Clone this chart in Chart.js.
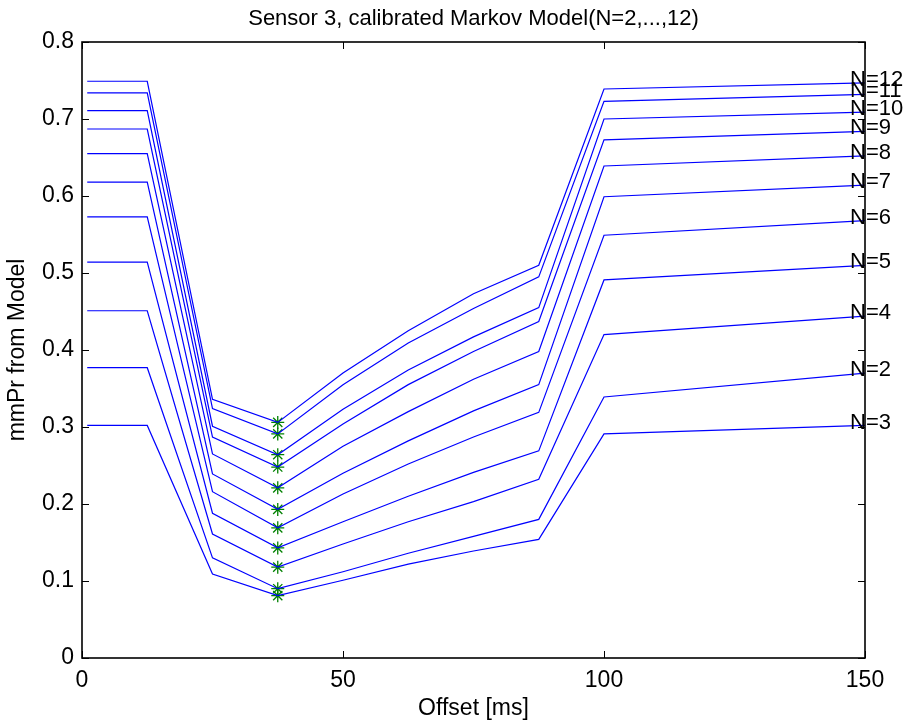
<!DOCTYPE html>
<html>
<head>
<meta charset="utf-8">
<title>Sensor 3, calibrated Markov Model</title>
<script src="https://cdn.jsdelivr.net/npm/chart.js@4.4.0/dist/chart.umd.min.js"></script>
<style>
  html, body { margin: 0; padding: 0; background: #fff; }
  #wrap { width: 909px; height: 725px; }
</style>
</head>
<body>
<div id="wrap"><canvas id="chart"></canvas></div>
<script>
// offsets [ms] where the model was evaluated
const offsets = [1, 12.5, 25, 37.5, 50, 62.5, 75, 87.5, 100, 150];

// mmPr per model order, top curve first
const n12 = [0.749, 0.749, 0.336, 0.306, 0.370, 0.425, 0.473, 0.510, 0.739, 0.747];
const n11 = [0.734, 0.734, 0.324, 0.291, 0.355, 0.409, 0.454, 0.495, 0.723, 0.732];
const n10 = [0.711, 0.711, 0.301, 0.264, 0.323, 0.374, 0.417, 0.455, 0.700, 0.709];
const n9  = [0.687, 0.687, 0.287, 0.248, 0.304, 0.355, 0.398, 0.437, 0.673, 0.684];
const n8  = [0.655, 0.655, 0.265, 0.221, 0.275, 0.320, 0.362, 0.398, 0.639, 0.652];
const n7  = [0.618, 0.618, 0.239, 0.193, 0.240, 0.282, 0.321, 0.355, 0.599, 0.614];
const n6  = [0.573, 0.573, 0.216, 0.169, 0.213, 0.252, 0.287, 0.319, 0.549, 0.568];
const n5  = [0.514, 0.514, 0.188, 0.143, 0.177, 0.210, 0.241, 0.269, 0.491, 0.510];
const n4  = [0.451, 0.451, 0.161, 0.118, 0.148, 0.177, 0.203, 0.232, 0.420, 0.444];
const n2  = [0.377, 0.377, 0.130, 0.090, 0.112, 0.136, 0.158, 0.180, 0.339, 0.370];
const n3  = [0.302, 0.302, 0.109, 0.081, 0.101, 0.122, 0.139, 0.154, 0.291, 0.302];

const curveNames = ["N=12", "N=11", "N=10", "N=9", "N=8", "N=7", "N=6", "N=5", "N=4", "N=2", "N=3"];
const curves = [n12, n11, n10, n9, n8, n7, n6, n5, n4, n2, n3];

// the marked offset (minimum of every curve)
const markIndex = 3;

const xTicks = [0, 50, 100, 150];
const yTicks = [0, 0.1, 0.2, 0.3, 0.4, 0.5, 0.6, 0.7, 0.8];

const FONT = "'Liberation Sans', Arial, Helvetica, sans-serif";

const lineSets = curves.map((vals, i) => ({
  label: curveNames[i],
  data: vals.map((v, j) => ({ x: offsets[j], y: v })),
  borderColor: "#0000ff",
  borderWidth: 1.2,
  pointRadius: 0,
  tension: 0,
  fill: false,
}));

const markSet = {
  type: "scatter",
  label: "min",
  data: curves.map((vals) => ({ x: offsets[markIndex], y: vals[markIndex] })),
  pointStyle: "star",
  pointRadius: 6.5,
  borderColor: "#008000",
  backgroundColor: "#008000",
  pointBorderWidth: 1.3,
  showLine: false,
};

// box, inward ticks, curve labels and title
const frame = {
  id: "frame",
  afterDraw(chart) {
    const { ctx, chartArea: a } = chart;
    const xs = chart.scales.x;
    const ys = chart.scales.y;
    const tl = 7;
    ctx.save();
    ctx.strokeStyle = "#000";
    ctx.lineWidth = 1;
    ctx.beginPath();
    xTicks.forEach((t) => {
      const px = Math.round(xs.getPixelForValue(t)) + 0.5;
      ctx.moveTo(px, a.bottom);
      ctx.lineTo(px, a.bottom - tl);
      ctx.moveTo(px, a.top);
      ctx.lineTo(px, a.top + tl);
    });
    yTicks.forEach((t) => {
      const py = Math.round(ys.getPixelForValue(t)) + 0.5;
      ctx.moveTo(a.left, py);
      ctx.lineTo(a.left + tl, py);
      ctx.moveTo(a.right, py);
      ctx.lineTo(a.right - tl, py);
    });
    ctx.stroke();
    ctx.lineWidth = 1.6;
    ctx.strokeRect(a.left, a.top, a.right - a.left, a.bottom - a.top);

    ctx.fillStyle = "#000";
    ctx.font = "22px " + FONT;
    ctx.textAlign = "left";
    ctx.textBaseline = "middle";
    curves.forEach((vals, i) => {
      const last = vals.length - 1;
      const px = xs.getPixelForValue(offsets[last]) - 15;
      const py = ys.getPixelForValue(vals[last]) - 3;
      ctx.fillText(curveNames[i], px, py);
    });

    ctx.font = "22px " + FONT;
    ctx.textAlign = "center";
    ctx.fillText("Sensor 3, calibrated Markov Model(N=2,...,12)", (a.left + a.right) / 2, 19);
    ctx.restore();
  },
};

new Chart(document.getElementById("chart"), {
  type: "line",
  data: { datasets: [...lineSets, markSet] },
  options: {
    responsive: true,
    maintainAspectRatio: false,
    animation: false,
    layout: { padding: { top: 42, right: 44, left: 0, bottom: 0 } },
    plugins: {
      legend: { display: false },
      tooltip: { enabled: false },
    },
    scales: {
      x: {
        type: "linear",
        min: 0,
        max: 150,
        afterBuildTicks: (s) => { s.ticks = xTicks.map((v) => ({ value: v })); },
        afterFit: (s) => { s.height = 67; },
        grid: { display: false, drawTicks: false },
        border: { display: false },
        ticks: {
          color: "#000",
          padding: 9,
          maxRotation: 0,
          font: { family: FONT, size: 23 },
        },
        title: {
          display: true,
          text: "Offset [ms]",
          color: "#000",
          font: { family: FONT, size: 23 },
          padding: { top: 0, bottom: 3 },
        },
      },
      y: {
        min: 0,
        max: 0.8,
        afterBuildTicks: (s) => { s.ticks = yTicks.map((v) => ({ value: v })); },
        afterFit: (s) => { s.width = 82; },
        grid: { display: false, drawTicks: false },
        border: { display: false },
        ticks: {
          color: "#000",
          padding: 8,
          font: { family: FONT, size: 23 },
          callback: (v) => String(+v.toFixed(1)),
        },
        title: {
          display: true,
          text: "mmPr from Model",
          color: "#000",
          font: { family: FONT, size: 23 },
          padding: { top: 4, bottom: 0 },
        },
      },
    },
  },
  plugins: [frame],
});
</script>
</body>
</html>
